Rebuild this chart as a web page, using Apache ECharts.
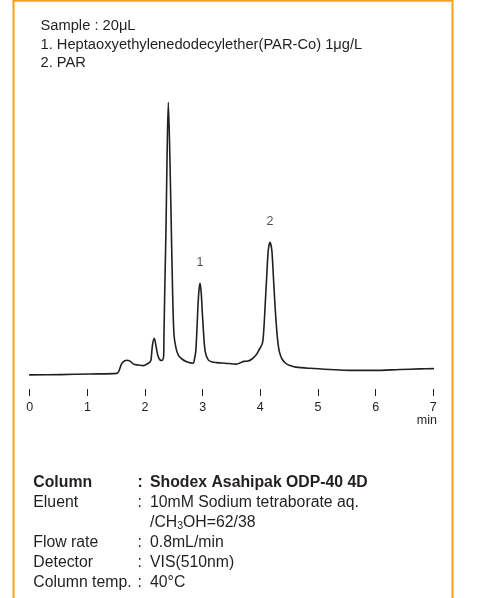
<!DOCTYPE html>
<html>
<head>
<meta charset="utf-8">
<script src="https://cdn.jsdelivr.net/npm/echarts@6/dist/echarts.min.js"></script>
<style>
  html, body { margin: 0; padding: 0; background: #fff; }
  #chart { width: 477px; height: 598px; }
</style>
</head>
<body>
<div id="chart"></div>
<script>
// Chromatogram trace: retention time (min) and detector response (arbitrary units)
const traceTime = [
  0.00, 0.53, 1.05, 1.51, 1.60, 1.68, 1.74, 1.80, 1.88, 1.97,
  2.057, 2.086, 2.104, 2.13, 2.161, 2.196, 2.225, 2.26, 2.294, 2.317,
  2.324, 2.329, 2.341, 2.364, 2.381, 2.404, 2.433, 2.456, 2.48, 2.503,
  2.537, 2.577, 2.641, 2.723, 2.837, 2.855, 2.879, 2.896, 2.914, 2.933,
  2.954, 2.974, 2.993, 3.018, 3.045, 3.097, 3.162, 3.243, 3.387, 3.59,
  3.647, 3.717, 3.786, 3.855, 3.925, 3.977, 4.037, 4.06, 4.084, 4.112,
  4.138, 4.168, 4.199, 4.225, 4.254, 4.284, 4.306, 4.332, 4.376, 4.445,
  4.514, 4.618, 4.86, 5.21, 5.55, 5.98, 6.42, 6.77, 7.00
];
const traceSignal = [
  4.7, 4.8, 5.0, 5.2, 8.6, 9.6, 9.3, 8.3, 8.0, 7.8,
  8.6, 9.0, 9.7, 14.7, 16.9, 13.7, 11.0, 9.7, 9.5, 10.2,
  11.3, 18.0, 31.3, 53.6, 75.8, 95.6, 75.8, 53.6, 31.3, 18.0,
  13.7, 11.3, 10.0, 9.1, 8.6, 9.7, 12.4, 18.0, 25.8, 32.3,
  35.2, 32.3, 25.8, 18.0, 12.4, 9.7, 9.0, 8.8, 8.6, 8.3,
  8.7, 9.2, 9.3, 10.0, 11.3, 13.0, 15.3, 19.7, 28.0, 38.0,
  46.3, 48.9, 46.3, 38.0, 28.0, 19.7, 15.3, 12.3, 10.0, 8.5,
  7.8, 7.3, 6.9, 6.5, 6.2, 6.2, 6.5, 6.7, 6.8
];

// Numbered peaks
const peakNames = ['1', '2'];
const peakTimes = [2.954, 4.168];
const peakSignals = [35.2, 48.9];

// Time axis
const timeTicks = [0, 1, 2, 3, 4, 5, 6, 7];

// Sample and conditions text
const sampleLines = [
  'Sample : 20μL',
  '1. Heptaoxyethylenedodecylether(PAR-Co) 1μg/L',
  '2. PAR'
];
const conditionNames = ['Column', 'Eluent', '', 'Flow rate', 'Detector', 'Column temp.'];
const conditionValues = [
  'Shodex Asahipak ODP-40 4D',
  '10mM Sodium tetraborate aq.',
  '/CH{sub|3}OH=62/38',
  '0.8mL/min',
  'VIS(510nm)',
  '40°C'
];

const ink = '#231f20';
const font = '"Liberation Sans", Arial, Helvetica, sans-serif';

const chart = echarts.init(document.getElementById('chart'), null, { renderer: 'canvas' });

const lineData = traceTime.map((t, i) => [t, traceSignal[i]]);
const peakData = peakTimes.map((t, i) => ({ value: [t, peakSignals[i]], name: peakNames[i] }));

const graphics = [];
// orange frame
graphics.push({
  type: 'polyline',
  shape: { points: [[13.5, 600], [13.5, 0.8], [452.5, 0.8], [452.5, 600]] },
  style: { stroke: '#f7a21b', lineWidth: 2, fill: null },
  silent: true
});
const sampleY = [26.7, 45.5, 63.5];
sampleLines.forEach((s, i) => {
  graphics.push({
    type: 'text', left: 40.5, top: sampleY[i] - 8.5,
    style: { text: s, fontSize: 14.7, fontFamily: font, fill: ink }
  });
});
// axis unit
graphics.push({
  type: 'text', right: 477 - 437, top: 414.5,
  style: { text: 'min', fontSize: 12.5, fontFamily: font, fill: ink }
});
const condY = [484, 503.5, 523.5, 543.5, 564, 584];
conditionNames.forEach((n, i) => {
  const bold = i === 0;
  if (n) {
    graphics.push({
      type: 'text', left: 33.3, top: condY[i] - 9,
      style: { text: n, fontSize: 15.8, fontFamily: font, fontWeight: bold ? 'bold' : 'normal', fill: ink }
    });
    graphics.push({
      type: 'text', left: 137.5, top: condY[i] - 9,
      style: { text: ':', fontSize: 15.8, fontFamily: font, fontWeight: bold ? 'bold' : 'normal', fill: ink }
    });
  }
  graphics.push({
    type: 'text', left: 150, top: condY[i] - 9,
    style: {
      text: conditionValues[i], fontSize: 15.8, fontFamily: font,
      fontWeight: bold ? 'bold' : 'normal', fill: ink,
      rich: { sub: { fontSize: 10.5, fontFamily: font, fill: ink, padding: [8, 0, 0, 0] } }
    }
  });
});

chart.setOption({
  animation: false,
  backgroundColor: '#ffffff',
  grid: { left: 29.7, right: 43.7, top: 89, bottom: 209, containLabel: false },
  xAxis: {
    type: 'value', min: timeTicks[0], max: timeTicks[timeTicks.length - 1], interval: 1,
    axisLine: { show: false },
    axisTick: { show: true, length: 7, lineStyle: { color: ink, width: 1 } },
    axisLabel: {
      margin: 12, color: ink, fontSize: 12.5, fontFamily: font,
      formatter: v => (timeTicks.includes(v) ? String(v) : '')
    },
    splitLine: { show: false }
  },
  yAxis: {
    type: 'value', min: 0, max: 100, show: false,
    splitLine: { show: false }
  },
  series: [
    {
      type: 'line',
      data: lineData,
      smooth: 0.3,
      symbol: 'none',
      showSymbol: false,
      lineStyle: { color: ink, width: 1.6, join: 'round', cap: 'round' },
      silent: true
    },
    {
      type: 'scatter',
      data: peakData,
      symbol: 'circle',
      symbolSize: 1,
      itemStyle: { color: 'rgba(0,0,0,0)' },
      label: {
        show: true, position: 'top', distance: 14,
        formatter: p => p.name,
        color: ink, fontSize: 12.5, fontFamily: font,
        textBorderWidth: 0
      },
      silent: true
    }
  ],
  graphic: graphics
});
</script>
</body>
</html>
